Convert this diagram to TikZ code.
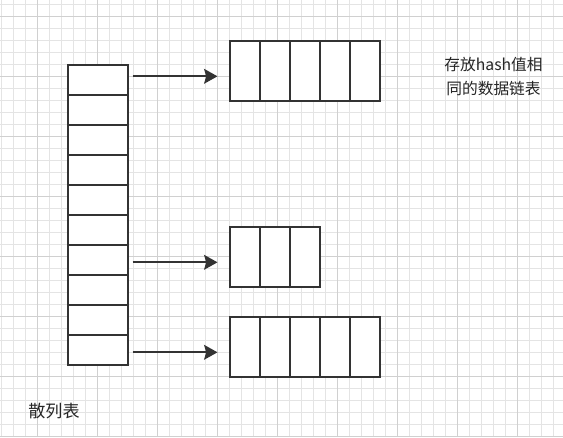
\documentclass[tikz,border=0pt]{standalone}
\usepackage{fontspec}
\newfontfamily\cjk{Noto Sans CJK SC}
\usetikzlibrary{arrows.meta}
\definecolor{gridminor}{HTML}{E4E4E4}
\definecolor{gridmajor}{HTML}{D0D0D0}
\definecolor{ink}{HTML}{333333}
\begin{document}
\begin{tikzpicture}[x=0.75pt,y=-0.75pt,
  cellbox/.style={draw=ink,line width=1pt,fill=white,inner sep=0pt,minimum width=45pt,minimum height=22.5pt,anchor=north west},
  chaincell/.style={draw=ink,line width=1pt,fill=white,inner sep=0pt,minimum width=22.5pt,minimum height=45pt,anchor=north west},
  ptr/.style={draw=ink,line width=1.7pt,-{Stealth[length=10pt,width=11pt,inset=1.5pt]}},
  lbl/.style={font=\cjk\fontsize{11.8}{17.3}\selectfont,text=black!85,inner sep=0pt,align=center}]
\useasboundingbox (0,0) rectangle (563,437);
\fill[white] (0,0) rectangle (563,437);
% grid
\foreach \i in {0,...,46} {\draw[gridminor,line width=0.75pt] ({1.33+12*\i},0) -- ({1.33+12*\i},437);}
\foreach \j in {0,...,36} {\draw[gridminor,line width=0.75pt] (0,{4+12*\j}) -- (563,{4+12*\j});}
\foreach \i in {0,...,8} {\draw[gridmajor,line width=0.75pt] ({37.33+60*\i},0) -- ({37.33+60*\i},437);}
\foreach \j in {0,...,7} {\draw[gridmajor,line width=0.75pt] (0,{16+60*\j}) -- (563,{16+60*\j});}
% hash table
\foreach \k in {1,...,10} {\node[cellbox] (h\k) at (67.33,{64.33+30*(\k-1)}) {};}
% chains
\foreach \k in {1,...,5} {\node[chaincell] (a\k) at ({229.33+30*(\k-1)},40.33) {};}
\foreach \k in {1,...,3} {\node[chaincell] (b\k) at ({229.33+30*(\k-1)},226.33) {};}
\foreach \k in {1,...,5} {\node[chaincell] (c\k) at ({229.33+30*(\k-1)},316.33) {};}
% arrows
\coordinate (p1s) at (132.7,76.3); \coordinate (p1e) at (217.5,76.3);
\coordinate (p2s) at (132.7,262.3); \coordinate (p2e) at (217.5,262.3);
\coordinate (p3s) at (132.7,352.3); \coordinate (p3e) at (217.5,352.3);
\draw[ptr] (p1s) -- (p1e);
\draw[ptr] (p2s) -- (p2e);
\draw[ptr] (p3s) -- (p3e);
% labels
\node[lbl] (t1) at (493.5,76.5) {存放hash值相\\同的数据链表};
\node[lbl,font=\cjk\fontsize{12.8}{15}\selectfont] (t2) at (54,411) {散列表};
\end{tikzpicture}
\end{document}
